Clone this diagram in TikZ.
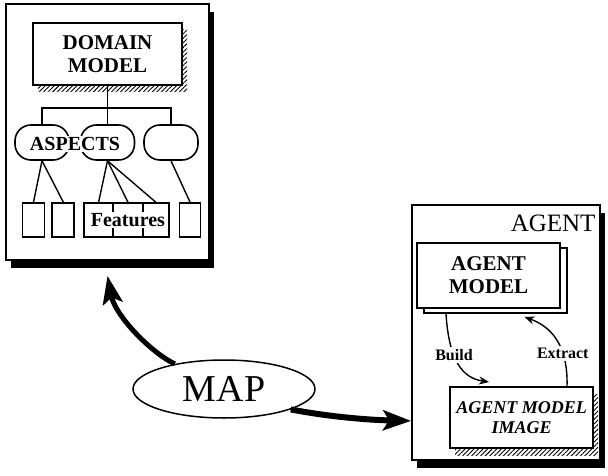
\documentclass[tikz,border=0pt]{standalone}
\usepackage{fontspec}
\setmainfont{Liberation Serif}
\usetikzlibrary{positioning,shapes.geometric,shadows,patterns.meta,arrows.meta}
\tikzstyle{PanelBox}=[rectangle, draw=black, line width=0.9pt, fill=white, drop shadow={shadow xshift=2.5pt, shadow yshift=-4pt, fill=black, opacity=1}]
\tikzstyle{HatchShadow}=[drop shadow={shadow xshift=2.5pt, shadow yshift=-3.5pt, pattern={Lines[angle=45, distance=1.6pt, line width=0.45pt]}, opacity=1}]
\tikzstyle{ModelBox}=[rectangle, draw=black, line width=1pt, fill=white, align=center, inner sep=0pt, font=\bfseries\fontsize{10.5}{11.5}\selectfont]
\tikzstyle{AspectPill}=[rectangle, rounded corners=8pt, draw=black, line width=0.8pt, fill=white, minimum width=27pt, minimum height=17.5pt]
\tikzstyle{FeatureBox}=[rectangle, draw=black, line width=0.9pt, fill=white, minimum height=17pt]
\tikzstyle{PillLabel}=[fill=white, inner sep=0.5pt, font=\bfseries\fontsize{10}{11}\selectfont]
\tikzstyle{LinkLine}=[line width=0.7pt]
\tikzstyle{MapBubble}=[ellipse, draw=black, line width=0.75pt, fill=white, inner sep=0pt, minimum width=91pt, minimum height=29pt, font=\fontsize{19}{20}\selectfont]
\tikzstyle{MapArrow}=[-{Stealth[length=14pt, width=10pt, inset=3pt]}, line width=2.5pt]
\tikzstyle{FlowArrow}=[-{Stealth[length=5pt, width=4pt]}, line width=0.7pt]
\tikzstyle{FlowLabel}=[fill=white, inner sep=1pt, font=\bfseries\fontsize{8}{9}\selectfont]

\begin{document}
\begin{tikzpicture}[x=0.5pt, y=-0.5pt]
			\useasboundingbox (0,0) rectangle (608,475);

			%Paneles
			\node[PanelBox, minimum width=101.5pt, minimum height=128pt]	(domainpanel)	at (107.5,132)	{};
			\node[PanelBox, minimum width=94pt, minimum height=127.5pt]	(agentpanel)	at (506,332.5)	{};

			%Modelo de dominio
			\node[ModelBox, HatchShadow, minimum width=74.5pt, minimum height=31pt]	(domainmodel)	at (107.5,54)	{DOMAIN\\MODEL};
			\coordinate (branch) at (107.5,108);

			\node[AspectPill]		(aspect1)		at (42,142.5)		{};
			\node[AspectPill]		(aspect2)		at (107.5,142.5)	{};
			\node[AspectPill]		(aspect3)		at (171,142.5)		{};
			\node[PillLabel]		(aspectslabel)	at (75,144)		{ASPECTS};

			\node[FeatureBox, minimum width=11pt]		(feat1)	at (33.5,220)		{};
			\node[FeatureBox, minimum width=11pt]		(feat2)	[right=3pt of feat1]	{};
			\node[FeatureBox, minimum width=14.5pt]	(feat3)	[right=4pt of feat2]	{};
			\node[FeatureBox, minimum width=15pt]		(feat4)	[right=-1pt of feat3]	{};
			\node[FeatureBox, minimum width=13pt]		(feat5)	[right=-1pt of feat4]	{};
			\node[FeatureBox, minimum width=10.5pt]	(feat6)	[right=4.5pt of feat5]	{};
			\node[PillLabel]		(featureslabel)	at (feat4)	{Features};

			\draw[LinkLine] (domainmodel.south) -- (branch);
			\draw[LinkLine] (branch) -| (aspect1.north);
			\draw[LinkLine] (branch) -- (aspect2.north);
			\draw[LinkLine] (branch) -| (aspect3.north);
			\draw[LinkLine] (aspect1.south) -- (feat1.north);
			\draw[LinkLine] (aspect1.south) -- (feat2.north);
			\draw[LinkLine] (aspect2.south) -- (feat3.north);
			\draw[LinkLine] (aspect2.south) -- (feat4.north);
			\draw[LinkLine] (aspect2.south) -- (feat5.north);
			\draw[LinkLine] (aspect3.south) -- (feat6.north);

			%Agente
			\node[inner sep=0pt, font=\fontsize{12.5}{14}\selectfont]	(agenttitle)	[below left=5pt and 2.5pt of agentpanel.north east]	{AGENT};
			\node[ModelBox, copy shadow={shadow xshift=3.5pt, shadow yshift=-2.5pt}, minimum width=71.5pt, minimum height=32.5pt]	(agentmodel)	at (488.5,275.5)	{AGENT\\MODEL};
			\node[ModelBox, HatchShadow, font=\bfseries\itshape\fontsize{9}{10}\selectfont, minimum width=71.5pt, minimum height=30.5pt]	(modelimage)	at (521.5,417.5)	{AGENT MODEL\\IMAGE};

			\draw[FlowArrow] ([xshift=15pt, yshift=-2.5pt]agentmodel.south west) .. controls (449,360) and (462,378) .. ([xshift=20pt, yshift=2pt]modelimage.north west) node[FlowLabel, pos=0.38] (buildlabel) {Build};
			\draw[FlowArrow] ([xshift=22.75pt]modelimage.north) .. controls (568,350) and (555,328) .. ([xshift=18pt, yshift=-4pt]agentmodel.south) node[FlowLabel, pos=0.35] (extractlabel) {Extract};

			%Mapa
			\node[MapBubble]		(map)		at (224,389)		{MAP};
			\draw[MapArrow] (map.153) .. controls (150,352) and (115,315) .. ([yshift=-7.5pt]domainpanel.south);
			\draw[MapArrow, line width=3pt] (map.-17) .. controls (330,417) and (370,420) .. ([yshift=20pt]agentpanel.south west);

		\end{tikzpicture}
\end{document}
